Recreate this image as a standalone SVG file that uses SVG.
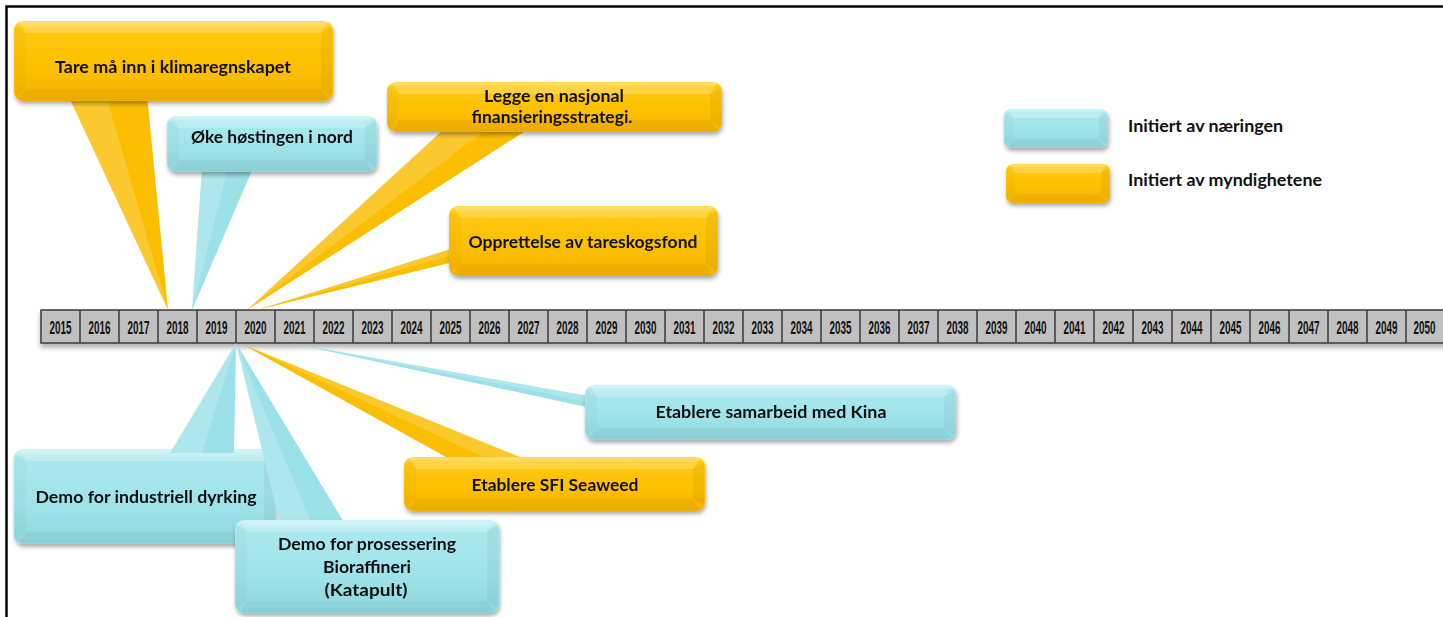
<svg xmlns="http://www.w3.org/2000/svg" width="1443" height="617" viewBox="0 0 1443 617">
  <defs>
    <linearGradient id="gY" x1="0" y1="0" x2="0" y2="1">
      <stop offset="0" stop-color="#FFDC55"/>
      <stop offset="0.1" stop-color="#FFC80E"/>
      <stop offset="0.6" stop-color="#FCC000"/>
      <stop offset="1" stop-color="#F3B200"/>
    </linearGradient>
    <linearGradient id="gC" x1="0" y1="0" x2="0" y2="1">
      <stop offset="0" stop-color="#CDF4F7"/>
      <stop offset="0.1" stop-color="#AAE9EE"/>
      <stop offset="0.6" stop-color="#9EE3EA"/>
      <stop offset="1" stop-color="#90D6DE"/>
    </linearGradient>
    <filter id="shadow" x="-10%" y="-20%" width="120%" height="150%">
      <feDropShadow dx="1" dy="3" stdDeviation="2" flood-color="#000" flood-opacity="0.33"/>
    </filter>
    <filter id="barShadow" x="-5%" y="-30%" width="110%" height="180%">
      <feDropShadow dx="0" dy="4" stdDeviation="2.5" flood-color="#000" flood-opacity="0.3"/>
    </filter>
    <style>
      .frame { fill: none; stroke: #000; stroke-width: 2.5; }
      .bar { fill: #C0C0C0; stroke: #3A3A3A; stroke-width: 1.5; }
      .grid { fill: none; stroke: #3A3A3A; stroke-width: 1.5; }
      .yr { font-family: "Liberation Sans", Arial, sans-serif; font-weight: 700; font-size: 19px; fill: #111; text-anchor: middle; }
      .yel { fill: url(#gY); }
      .cya { fill: url(#gC); }
      .tailY { fill: #FBBE00; }
      .tailC { fill: #9BE1E8; }
      .hl { fill: #FFFFFF; fill-opacity: 0.18; }
      .ft { fill: #FFFFFF; fill-opacity: 0.22; }
      .fb { fill: #000000; fill-opacity: 0.035; }
      .fl { fill: #000000; fill-opacity: 0.025; }
      .fr { fill: #000000; fill-opacity: 0.045; }
      .lbl { font-family: Lato, "Open Sans", "Liberation Sans", sans-serif; font-weight: 700; font-size: 17px; fill: #111; text-anchor: middle; }
      .leg { font-family: Lato, "Open Sans", "Liberation Sans", sans-serif; font-weight: 700; font-size: 17px; fill: #111; }
    </style>
  </defs>

  <rect width="1443" height="617" fill="#FFFFFF"/>
  <path class="frame" d="M6.5 617 V6.5 H1443"/>

  <!-- timeline bar 2015-2050; year labels are narrowed horizontally -->
  <g id="timeline">
    <rect class="bar" x="41" y="310" width="1410" height="33" filter="url(#barShadow)"/>
    <path class="grid" d="M80 310V343M119 310V343M158 310V343M197 310V343M236 310V343M275 310V343M314 310V343M353 310V343M392 310V343M431 310V343M470 310V343M509 310V343M548 310V343M587 310V343M626 310V343M665 310V343M704 310V343M743 310V343M782 310V343M821 310V343M860 310V343M899 310V343M938 310V343M977 310V343M1016 310V343M1055 310V343M1094 310V343M1133 310V343M1172 310V343M1211 310V343M1250 310V343M1289 310V343M1328 310V343M1367 310V343M1406 310V343"/>
    <g class="yr">
      <text transform="translate(60.5 334) scale(0.52 1)">2015</text>
      <text transform="translate(99.5 334) scale(0.52 1)">2016</text>
      <text transform="translate(138.5 334) scale(0.52 1)">2017</text>
      <text transform="translate(177.5 334) scale(0.52 1)">2018</text>
      <text transform="translate(216.5 334) scale(0.52 1)">2019</text>
      <text transform="translate(255.5 334) scale(0.52 1)">2020</text>
      <text transform="translate(294.5 334) scale(0.52 1)">2021</text>
      <text transform="translate(333.5 334) scale(0.52 1)">2022</text>
      <text transform="translate(372.5 334) scale(0.52 1)">2023</text>
      <text transform="translate(411.5 334) scale(0.52 1)">2024</text>
      <text transform="translate(450.5 334) scale(0.52 1)">2025</text>
      <text transform="translate(489.5 334) scale(0.52 1)">2026</text>
      <text transform="translate(528.5 334) scale(0.52 1)">2027</text>
      <text transform="translate(567.5 334) scale(0.52 1)">2028</text>
      <text transform="translate(606.5 334) scale(0.52 1)">2029</text>
      <text transform="translate(645.5 334) scale(0.52 1)">2030</text>
      <text transform="translate(684.5 334) scale(0.52 1)">2031</text>
      <text transform="translate(723.5 334) scale(0.52 1)">2032</text>
      <text transform="translate(762.5 334) scale(0.52 1)">2033</text>
      <text transform="translate(801.5 334) scale(0.52 1)">2034</text>
      <text transform="translate(840.5 334) scale(0.52 1)">2035</text>
      <text transform="translate(879.5 334) scale(0.52 1)">2036</text>
      <text transform="translate(918.5 334) scale(0.52 1)">2037</text>
      <text transform="translate(957.5 334) scale(0.52 1)">2038</text>
      <text transform="translate(996.5 334) scale(0.52 1)">2039</text>
      <text transform="translate(1035.5 334) scale(0.52 1)">2040</text>
      <text transform="translate(1074.5 334) scale(0.52 1)">2041</text>
      <text transform="translate(1113.5 334) scale(0.52 1)">2042</text>
      <text transform="translate(1152.5 334) scale(0.52 1)">2043</text>
      <text transform="translate(1191.5 334) scale(0.52 1)">2044</text>
      <text transform="translate(1230.5 334) scale(0.52 1)">2045</text>
      <text transform="translate(1269.5 334) scale(0.52 1)">2046</text>
      <text transform="translate(1308.5 334) scale(0.52 1)">2047</text>
      <text transform="translate(1347.5 334) scale(0.52 1)">2048</text>
      <text transform="translate(1386.5 334) scale(0.52 1)">2049</text>
      <text transform="translate(1424.5 334) scale(0.52 1)">2050</text>
    </g>
  </g>

  <!-- Demo for industriell dyrking (sits under the other callout tails) -->
  <g id="node-demo-dyrking" filter="url(#shadow)">
    <rect class="cya" x="14" y="449" width="262" height="95" rx="9"/>
    <path class="ft" d="M19 450 H271 L264 461 H26 Z"/>
    <path class="fb" d="M19 543 H271 L264 532 H26 Z"/>
    <path class="fl" d="M15 454 V539 L26 532 V461 Z"/>
    <path class="fr" d="M275 454 V539 L264 532 V461 Z"/>
    <text class="lbl" x="146" y="503" textLength="221" lengthAdjust="spacingAndGlyphs">Demo for industriell dyrking</text>
  </g>

  <!-- callout pointers from each box to its year on the timeline -->
  <g id="connectors">
    <path class="tailY" d="M68 95 L147 95 L168 310 Z"/>
    <path class="hl" d="M68 95 L106 95 L168 310 Z"/>
    <path class="tailC" d="M202 168 L253 168 L192 310 Z"/>
    <path class="hl" d="M202 168 L228 168 L192 310 Z"/>
    <path class="tailY" d="M445 128 L530 128 L247 310 Z"/>
    <path class="hl" d="M445 128 L488 128 L247 310 Z"/>
    <path class="tailY" d="M470 243 L470 258 L257 310 Z"/>
    <path class="hl" d="M470 243 L470 250 L257 310 Z"/>
    <path class="tailC" d="M170 453 L234 453 L236 343 Z"/>
    <path class="hl" d="M170 453 L202 453 L236 343 Z"/>
    <path class="tailC" d="M280 524 L345 524 L236 343 Z"/>
    <path class="hl" d="M280 524 L312 524 L236 343 Z"/>
    <path class="tailC" d="M290 343 L600 398 L600 410 Z"/>
    <path class="hl" d="M290 343 L600 398 L600 404 Z"/>
    <path class="tailY" d="M242 344 L455 462 L532 462 Z"/>
    <path class="hl" d="M242 344 L494 462 L532 462 Z"/>
  </g>

  <g id="node-tare-klima" filter="url(#shadow)">
    <rect class="yel" x="14" y="21" width="319" height="80" rx="9"/>
    <path class="ft" d="M19 22 H328 L321 33 H26 Z"/>
    <path class="fb" d="M19 100 H328 L321 89 H26 Z"/>
    <path class="fl" d="M15 26 V96 L26 89 V33 Z"/>
    <path class="fr" d="M332 26 V96 L321 89 V33 Z"/>
    <text class="lbl" x="173" y="73" textLength="236" lengthAdjust="spacingAndGlyphs">Tare må inn i klimaregnskapet</text>
  </g>

  <g id="node-hosting-nord" filter="url(#shadow)">
    <rect class="cya" x="167" y="116" width="210" height="56" rx="9"/>
    <path class="ft" d="M172 117 H372 L365 128 H179 Z"/>
    <path class="fb" d="M172 171 H372 L365 160 H179 Z"/>
    <path class="fl" d="M168 121 V167 L179 160 V128 Z"/>
    <path class="fr" d="M376 121 V167 L365 160 V128 Z"/>
    <text class="lbl" x="272" y="143" textLength="162" lengthAdjust="spacingAndGlyphs">Øke høstingen i nord</text>
  </g>

  <g id="node-finansiering" filter="url(#shadow)">
    <rect class="yel" x="387" y="82" width="335" height="50" rx="9"/>
    <path class="ft" d="M392 83 H717 L710 94 H399 Z"/>
    <path class="fb" d="M392 131 H717 L710 120 H399 Z"/>
    <path class="fl" d="M388 87 V127 L399 120 V94 Z"/>
    <path class="fr" d="M721 87 V127 L710 120 V94 Z"/>
    <text class="lbl" x="554" y="102" textLength="140" lengthAdjust="spacingAndGlyphs">Legge en nasjonal</text>
    <text class="lbl" x="552" y="123" textLength="161" lengthAdjust="spacingAndGlyphs">finansieringsstrategi.</text>
  </g>

  <g id="node-tareskogsfond" filter="url(#shadow)">
    <rect class="yel" x="449" y="206" width="269" height="70" rx="9"/>
    <path class="ft" d="M454 207 H713 L706 218 H461 Z"/>
    <path class="fb" d="M454 275 H713 L706 264 H461 Z"/>
    <path class="fl" d="M450 211 V271 L461 264 V218 Z"/>
    <path class="fr" d="M717 211 V271 L706 264 V218 Z"/>
    <text class="lbl" x="583" y="248" textLength="229" lengthAdjust="spacingAndGlyphs">Opprettelse av tareskogsfond</text>
  </g>

  <g id="node-demo-prosessering" filter="url(#shadow)">
    <rect class="cya" x="235" y="520" width="264" height="93" rx="9"/>
    <path class="ft" d="M240 521 H494 L487 532 H247 Z"/>
    <path class="fb" d="M240 612 H494 L487 601 H247 Z"/>
    <path class="fl" d="M236 525 V608 L247 601 V532 Z"/>
    <path class="fr" d="M498 525 V608 L487 601 V532 Z"/>
    <text class="lbl" x="367" y="550" textLength="178" lengthAdjust="spacingAndGlyphs">Demo for prosessering</text>
    <text class="lbl" x="367" y="573" textLength="88" lengthAdjust="spacingAndGlyphs">Bioraffineri</text>
    <text class="lbl" x="366" y="596" textLength="83" lengthAdjust="spacingAndGlyphs">(Katapult)</text>
  </g>

  <g id="node-samarbeid-kina" filter="url(#shadow)">
    <rect class="cya" x="585" y="385" width="371" height="55" rx="9"/>
    <path class="ft" d="M590 386 H951 L944 397 H597 Z"/>
    <path class="fb" d="M590 439 H951 L944 428 H597 Z"/>
    <path class="fl" d="M586 390 V435 L597 428 V397 Z"/>
    <path class="fr" d="M955 390 V435 L944 428 V397 Z"/>
    <text class="lbl" x="771" y="418" textLength="231" lengthAdjust="spacingAndGlyphs">Etablere samarbeid med Kina</text>
  </g>

  <g id="node-sfi-seaweed" filter="url(#shadow)">
    <rect class="yel" x="404" y="457" width="301" height="54" rx="9"/>
    <path class="ft" d="M409 458 H700 L693 469 H416 Z"/>
    <path class="fb" d="M409 510 H700 L693 499 H416 Z"/>
    <path class="fl" d="M405 462 V506 L416 499 V469 Z"/>
    <path class="fr" d="M704 462 V506 L693 499 V469 Z"/>
    <text class="lbl" x="555" y="491" textLength="167" lengthAdjust="spacingAndGlyphs">Etablere SFI Seaweed</text>
  </g>

  <!-- legend -->
  <g id="legend-naeringen">
    <g filter="url(#shadow)">
      <rect class="cya" x="1004" y="109" width="104" height="39" rx="7"/>
      <path class="ft" d="M1008 110 H1104 L1099 118 H1013 Z"/>
      <path class="fb" d="M1008 147 H1104 L1099 139 H1013 Z"/>
      <path class="fl" d="M1005 113 V144 L1013 139 V118 Z"/>
      <path class="fr" d="M1107 113 V144 L1099 139 V118 Z"/>
    </g>
    <text class="leg" x="1128" y="132" textLength="155" lengthAdjust="spacingAndGlyphs">Initiert av næringen</text>
  </g>
  <g id="legend-myndighetene">
    <g filter="url(#shadow)">
      <rect class="yel" x="1006" y="164" width="104" height="39" rx="7"/>
      <path class="ft" d="M1010 165 H1106 L1101 173 H1015 Z"/>
      <path class="fb" d="M1010 202 H1106 L1101 194 H1015 Z"/>
      <path class="fl" d="M1007 168 V199 L1015 194 V173 Z"/>
      <path class="fr" d="M1109 168 V199 L1101 194 V173 Z"/>
    </g>
    <text class="leg" x="1128" y="186" textLength="194" lengthAdjust="spacingAndGlyphs">Initiert av myndighetene</text>
  </g>
</svg>
